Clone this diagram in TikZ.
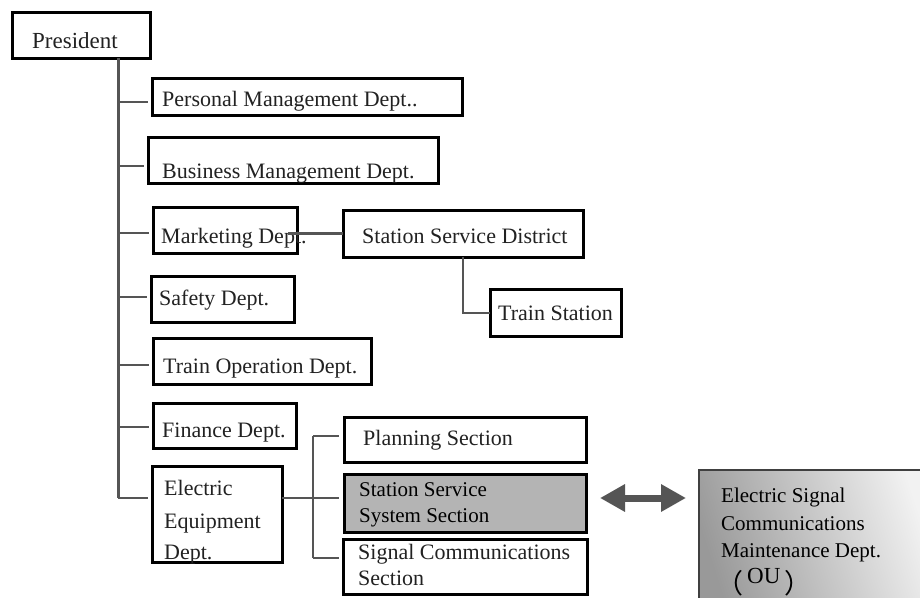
\documentclass[tikz,border=0pt]{standalone}
\usepackage{fontspec}
\setmainfont{Liberation Serif}
\newfontfamily\cjk{Noto Sans CJK SC}
\usetikzlibrary{calc,arrows.meta}
\definecolor{inkgray}{HTML}{222222}
\definecolor{linegray}{HTML}{555555}
\definecolor{hilite}{HTML}{B4B4B4}
\newcommand{\widebracket}[1]{\raisebox{-10pt}{\fontsize{27}{27}\cjk #1}}
\tikzset{
  unitbox/.style={draw=black, line width=3pt, inner sep=0pt, outer sep=0pt,
    anchor=north west, fill=white},
  lbl/.style={font=\fontsize{22}{26}\selectfont, text=inkgray, inner sep=0pt,
    anchor=base west},
  crisp/.style={font=\fontsize{21}{25}\selectfont, text=black},
  branch/.style={draw=linegray, line width=2pt},
  trunkline/.style={draw=linegray, line width=3pt},
  bigarrow/.style={draw=linegray, line width=7pt,
    {Triangle[length=25pt,width=26pt]}-{Triangle[length=25pt,width=26pt]}}
}
\begin{document}
\begin{tikzpicture}[x=1pt,y=-1pt]
\useasboundingbox (0,0) rectangle (920,597);
\fill[white] (0,0) rectangle (920,597);

% external unit with a grey gradient, dark at lower left, light at upper right
\shade[shading=axis, top color=white!95!black, bottom color=black!40,
  shading angle=-72, draw=black!75, line width=1.2pt]
  (699,470) rectangle (935,615);
\node[inner sep=0pt, outer sep=0pt, minimum width=236pt, minimum height=145pt,
  anchor=north west] (ou) at (699,470) {};

% boxes
\node[unitbox, minimum width=138pt, minimum height=46pt] (pres) at (12,12) {};
\node[unitbox, minimum width=310pt, minimum height=37pt] (pm) at (152,78) {};
\node[unitbox, minimum width=290pt, minimum height=46pt] (bm) at (148,137) {};
\node[unitbox, minimum width=144pt, minimum height=46pt] (mk) at (153,207) {};
\node[unitbox, minimum width=240pt, minimum height=47pt] (ssd) at (343,210) {};
\node[unitbox, minimum width=131pt, minimum height=47pt] (ts) at (490,289) {};
\node[unitbox, minimum width=143pt, minimum height=46pt] (sf) at (151,276) {};
\node[unitbox, minimum width=218pt, minimum height=46pt] (to) at (153,338) {};
\node[unitbox, minimum width=143pt, minimum height=45pt] (fi) at (153,403) {};
\node[unitbox, minimum width=130pt, minimum height=96pt] (ee) at (152,466) {};
\node[unitbox, minimum width=242pt, minimum height=45pt] (pl) at (344,417) {};
\node[unitbox, minimum width=242pt, minimum height=58pt, fill=hilite] (sss) at (344,474) {};
\node[unitbox, minimum width=244pt, minimum height=55pt] (sg) at (343,539) {};

% labels
\node[lbl, font=\fontsize{23}{27}\selectfont] (tpres) at (32,48) {President};
\node[lbl] (tpm) at (162,106) {Personal Management Dept..};
\node[lbl] (tbm) at (162,178) {Business Management Dept.};
\node[lbl] (tmk) at (161,243) {Marketing Dept.};
\node[lbl] (tssd) at (362,243) {Station Service District};
\node[lbl] (tts) at (498,320) {Train Station};
\node[lbl] (tsf) at (159,305) {Safety Dept.};
\node[lbl] (tto) at (163,373) {Train Operation Dept.};
\node[lbl] (tfi) at (162,437) {Finance Dept.};
\node[lbl] (tee1) at (164,495) {Electric};
\node[lbl] (tee2) at (164,528) {Equipment};
\node[lbl] (tee3) at (164,559) {Dept.};
\node[lbl] (tpl) at (363,445) {Planning Section};
\node[lbl, crisp] (tsss1) at (359,496) {Station Service};
\node[lbl, crisp] (tsss2) at (359,522) {System Section};
\node[lbl] (tsg1) at (358,559) {Signal Communications};
\node[lbl] (tsg2) at (358,585) {Section};
\node[lbl, crisp] (tou1) at (721,502) {Electric Signal};
\node[lbl, crisp] (tou2) at (721,530) {Communications};
\node[lbl, crisp] (tou3) at (721,557) {Maintenance Dept.};
\node[lbl, crisp, font=\fontsize{23}{27}\selectfont] (tou4) at (716,583)
  {\widebracket{（}\hspace{4pt}OU\hspace{4pt}\widebracket{）}};

% main trunk from the president down to the last department
\coordinate (t0) at ($(pres.south west)+(106,0)$);
\coordinate (pmL) at ($(pm.north west)+(0,24)$);
\coordinate (bmL) at ($(bm.north west)+(0,29)$);
\coordinate (mkL) at ($(mk.north west)+(0,26)$);
\coordinate (sfL) at ($(sf.north west)+(0,21)$);
\coordinate (toL) at ($(to.north west)+(0,27)$);
\coordinate (fiL) at ($(fi.north west)+(0,24)$);
\coordinate (eeL) at ($(ee.north west)+(0,32)$);
\draw[trunkline] (t0) -- (t0 |- eeL);
\foreach \c in {pmL,bmL,mkL,sfL,toL,fiL,eeL}
  \draw[branch, shorten >=4pt] (t0 |- \c) -- (\c);

% marketing to station service district to train station
\coordinate (mkR) at ($(mk.north east)+(-9,26)$);
\draw[trunkline] (mkR) -- (mkR -| ssd.west);
\draw[branch] (ssd.south) |- (ts.west);

% electric equipment sections
\coordinate (eeR) at ($(ee.north east)+(0,32)$);
\coordinate (plL) at ($(pl.north west)+(0,19)$);
\coordinate (sssL) at ($(sss.north west)+(0,24)$);
\coordinate (sgL) at ($(sg.north west)+(0,19)$);
\draw[branch] (eeR) -- ++(31,0) coordinate (fork);
\draw[branch, shorten >=5pt] (plL -| fork) -- (plL);
\draw[branch, shorten >=5pt] (fork) -- (sssL);
\draw[branch, shorten >=4pt] (sgL -| fork) -- (sgL);
\draw[branch] (plL -| fork) -- (sgL -| fork);

% two-way link to the external unit
\coordinate (arrL) at ($(sss.north east)+(14,24)$);
\coordinate (arrR) at ($(ou.north west)+(-13,28)$);
\draw[bigarrow] (arrL) -- (arrR);
\end{tikzpicture}
\end{document}
